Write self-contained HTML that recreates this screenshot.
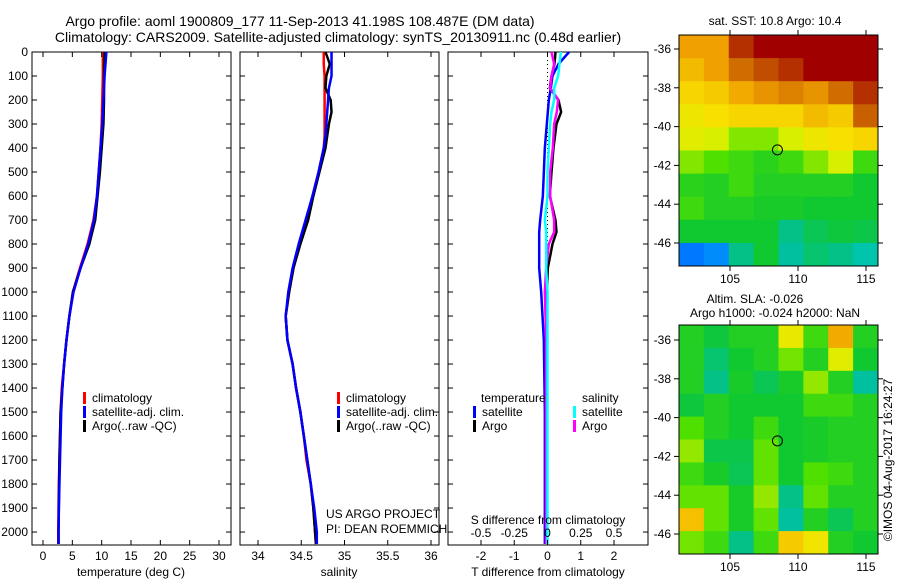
<!DOCTYPE html>
<html><head><meta charset="utf-8">
<style>
body{margin:0;background:#fff;width:900px;height:580px;overflow:hidden}
svg{display:block;font-family:"Liberation Sans",sans-serif}
text{font-size:12px;fill:#000}
</style></head>
<body>
<svg id="chart" width="900" height="580" viewBox="0 0 900 580" xmlns="http://www.w3.org/2000/svg">
<text x="300" y="26" text-anchor="middle" style="font-size:14px">Argo profile: aoml 1900809_177 11-Sep-2013 41.198S 108.487E (DM data)</text>
<text x="338" y="42" text-anchor="middle" style="font-size:14px">Climatology: CARS2009. Satellite-adjusted climatology: synTS_20130911.nc (0.48d earlier)</text>
<g id="g"></g>
</svg>
<script>
// ---- data ----
const depthsT = [0,100,200,300,400,500,600,700,800,900,1000,1100,1200,1300,1400,1500,1600,1700,1800,1900,2000,2050];
const tempClim = [10.2,10.2,10.1,10.0,9.8,9.5,9.2,8.6,7.6,6.3,5.1,4.5,4.0,3.6,3.2,3.0,2.9,2.8,2.7,2.65,2.6,2.6];
const tempSat  = [10.8,10.5,10.3,10.1,9.8,9.5,9.2,8.7,7.7,6.4,5.2,4.5,4.0,3.6,3.3,3.1,3.0,2.9,2.8,2.7,2.65,2.65];
const tempArgo = [10.5,10.4,10.4,10.3,10.0,9.7,9.3,8.9,7.9,6.4,5.1,4.5,4.0,3.6,3.3,3.0,2.9,2.8,2.75,2.7,2.65,2.65];
const depthsS = [0,50,100,150,200,250,300,350,400,500,600,700,800,900,1000,1100,1200,1300,1400,1500,1600,1700,1800,1900,2000,2050];
const salClim = [34.76,34.76,34.77,34.77,34.77,34.77,34.77,34.77,34.76,34.70,34.63,34.56,34.48,34.41,34.36,34.32,34.34,34.40,34.44,34.49,34.53,34.56,34.61,34.64,34.66,34.67];
const salSat  = [34.85,34.85,34.85,34.82,34.81,34.80,34.79,34.78,34.76,34.70,34.63,34.55,34.47,34.40,34.35,34.32,34.34,34.40,34.44,34.49,34.53,34.57,34.61,34.65,34.68,34.68];
const salArgo = [34.78,34.83,34.79,34.78,34.84,34.85,34.82,34.80,34.78,34.71,34.64,34.58,34.49,34.41,34.36,34.32,34.34,34.40,34.44,34.49,34.53,34.57,34.61,34.64,34.66,34.67];
const depthsD = [0,50,100,150,200,250,300,400,500,600,700,750,800,900,1000,1200,1500,2000,2050];
const dTArgo = [0.24,0.21,0.12,0.07,0.33,0.41,0.27,0.18,0.12,0.07,0.24,0.27,0.15,0.01,-0.02,-0.02,-0.02,-0.02,-0.02];
const dTSat  = [0.65,0.33,0.15,0.10,0.04,0.01,-0.02,-0.08,-0.11,-0.14,-0.22,-0.25,-0.25,-0.25,-0.19,-0.11,-0.08,-0.08,-0.08];
const dSArgo = [0.03,0.05,0.03,0.02,0.08,0.07,0.05,0.04,0.02,0.02,0.05,0.05,0.01,-0.01,-0.02,-0.01,-0.01,-0.01,-0.01];
const dSSat  = [0.10,0.09,0.08,0.05,0.05,0.03,0.02,0.01,0,0,-0.02,-0.01,-0.01,-0.01,0,0,0,0,0];
const depthTicks = [0,100,200,300,400,500,600,700,800,900,1000,1100,1200,1300,1400,1500,1600,1700,1800,1900,2000];
const tempTicks = [0,5,10,15,20,25,30];
const salTicks = [34,34.5,35,35.5,36];
const salTickLabels = ["34","34.5","35","35.5","36"];
const tdTicks = [-2,-1,0,1,2];
const sdTicks = [-0.5,-0.25,0,0.25,0.5];
const sdTickLabels = ["-0.5","-0.25","0","0.25","0.5"];
const lonTicks = [105,110,115];
const latTicks = [-36,-38,-40,-42,-44,-46];
// SST map (8 cols x 10 rows, normalized colour value, north to south)
const sstGrid = [
 [0.80,0.80,0.95,1,1,1,1,1],
 [0.75,0.80,0.88,0.92,0.95,1,1,1],
 [0.70,0.72,0.78,0.82,0.85,0.82,0.88,0.95],
 [0.65,0.68,0.70,0.70,0.70,0.75,0.72,0.90],
 [0.62,0.60,0.55,0.55,0.60,0.65,0.68,0.70],
 [0.55,0.52,0.50,0.48,0.50,0.55,0.60,0.50],
 [0.48,0.47,0.50,0.47,0.47,0.47,0.47,0.45],
 [0.50,0.47,0.47,0.46,0.46,0.45,0.45,0.45],
 [0.45,0.45,0.45,0.45,0.38,0.42,0.44,0.43],
 [0.20,0.22,0.38,0.45,0.36,0.40,0.38,0.35]];
const slaGrid = [
 [0.47,0.44,0.47,0.47,0.64,0.50,0.78,0.47],
 [0.47,0.40,0.45,0.47,0.54,0.47,0.62,0.45],
 [0.47,0.38,0.46,0.42,0.46,0.56,0.47,0.36],
 [0.44,0.47,0.45,0.45,0.45,0.50,0.50,0.47],
 [0.52,0.47,0.45,0.50,0.45,0.46,0.47,0.47],
 [0.56,0.43,0.43,0.53,0.45,0.46,0.47,0.47],
 [0.50,0.46,0.42,0.53,0.45,0.52,0.50,0.47],
 [0.53,0.53,0.46,0.56,0.38,0.53,0.47,0.47],
 [0.74,0.53,0.46,0.53,0.36,0.47,0.42,0.47],
 [0.54,0.50,0.38,0.50,0.72,0.66,0.47,0.45]];
const floatLon = 108.487, floatLat = -41.198;

const NS="http://www.w3.org/2000/svg";
const G=document.getElementById('g');
function mk(tag,attrs,parent){const e=document.createElementNS(NS,tag);for(const k in attrs)e.setAttribute(k,attrs[k]);(parent||G).appendChild(e);return e;}
function txt(s,x,y,anchor,parent){const t=mk('text',{x:x,y:y,'text-anchor':anchor||'start'},parent);t.textContent=s;return t;}

const Y0=52, Y1=545, D0=0, D1=2054;
function yD(d){return Y0+(d-D0)/(D1-D0)*(Y1-Y0);}
function linX(a,b,x0,x1){return v=>x0+(v-a)/(b-a)*(x1-x0);}
const P=[{x0:32,x1:231,sx:linX(0,30,43,219)},{x0:240,x1:439,sx:linX(34,36,258,431)},{x0:448,x1:648,sx:linX(-2,2,481,614)}];
const sdX=linX(-0.5,0.5,481,614);

function frame(p,name){
  const r=mk('rect',{x:p.x0,y:Y0,width:p.x1-p.x0,height:Y1-Y0,fill:'none',stroke:'#000','stroke-width':1});
  
  
  depthTicks.forEach(d=>{const y=yD(d);mk('line',{x1:p.x0,x2:p.x0+5,y1:y,y2:y,stroke:'#000'});mk('line',{x1:p.x1,x2:p.x1-5,y1:y,y2:y,stroke:'#000'});});
}
function profLine(vals,depths,sx,color,name){
  const pts=vals.map((v,i)=>sx(v)+','+yD(depths[i]));
  const l=mk('polyline',{points:pts.join(' '),fill:'none',stroke:color,'stroke-width':2.5,'stroke-linejoin':'round'});
  
  
}
function xTicks(p,ticks,labels,sx,yLab){
  ticks.forEach((t,i)=>{const x=sx(t);mk('line',{x1:x,x2:x,y1:Y1,y2:Y1-5,stroke:'#000'});mk('line',{x1:x,x2:x,y1:Y0,y2:Y0+5,stroke:'#000'});
    const tl=txt(labels[i],x,yLab,'middle');});
}
function legend(x,y,items){
  items.forEach((it,i)=>{const yy=y+i*14;mk('rect',{x:x,y:yy-10,width:3,height:12,fill:it[1]});const t=txt(it[0],x+9,yy);});
}

depthTicks.forEach(d=>{const t=txt(String(d),28,yD(d)+4,'end');});

// panel 1 temperature
frame(P[0],'temperature-panel');
profLine(tempClim,depthsT,P[0].sx,'#ff0000','temp-climatology-line');
profLine(tempArgo,depthsT,P[0].sx,'#000000','temp-argo-line');
profLine(tempSat,depthsT,P[0].sx,'#0000ff','temp-satellite-line');
xTicks(P[0],tempTicks,tempTicks.map(String),P[0].sx,560);
let t1=txt('temperature (deg C)',131,576,'middle');
legend(83,402,[['climatology','#ff0000'],['satellite-adj. clim.','#0000ff'],['Argo(..raw -QC)','#000']]);

// panel 2 salinity
frame(P[1],'salinity-panel');
profLine(salClim,depthsS,P[1].sx,'#ff0000','sal-climatology-line');
profLine(salArgo,depthsS,P[1].sx,'#000000','sal-argo-line');
profLine(salSat,depthsS,P[1].sx,'#0000ff','sal-satellite-line');
xTicks(P[1],salTicks,salTickLabels,P[1].sx,560);
let t2=txt('salinity',339,576,'middle');
legend(337,402,[['climatology','#ff0000'],['satellite-adj. clim.','#0000ff'],['Argo(..raw -QC)','#000']]);
let c1=txt('US ARGO PROJECT',326,518);
let c2=txt('PI: DEAN ROEMMICH',326,533);

// panel 3 differences
frame(P[2],'difference-panel');
mk('line',{x1:P[2].sx(0),x2:P[2].sx(0),y1:Y0,y2:yD(1000),stroke:'#000','stroke-dasharray':'1,3'});
profLine(dTArgo,depthsD,P[2].sx,'#000000','tdiff-argo-line');
profLine(dTSat,depthsD,P[2].sx,'#0000ff','tdiff-satellite-line');
profLine(dSArgo,depthsD,sdX,'#ff00ff','sdiff-argo-line');
profLine(dSSat,depthsD,sdX,'#00ffff','sdiff-satellite-line');
xTicks(P[2],tdTicks,tdTicks.map(String),P[2].sx,560);
sdTicks.forEach((s,i)=>{const t=txt(sdTickLabels[i],sdX(s),537,'middle');});
let t3=txt('S difference from climatology',548,524,'middle');
let t4=txt('T difference from climatology',548,576,'middle');
let t5=txt('temperature',481,402);
let t6=txt('salinity',582,402);
legend(473,416,[['satellite','#0000ff'],['Argo','#000']]);
legend(573,416,[['satellite','#00ffff'],['Argo','#ff00ff']]);

const stops=[[0,[0,40,160]],[0.2,[0,120,255]],[0.3,[0,220,230]],[0.36,[0,192,160]],[0.45,[16,200,48]],[0.52,[80,224,0]],[0.6,[216,240,0]],[0.68,[248,224,0]],[0.8,[240,160,0]],[0.9,[200,96,0]],[1,[160,0,0]]];
function cmap(v){for(let i=1;i<stops.length;i++){if(v<=stops[i][0]){const a=stops[i-1],b=stops[i],f=(v-a[0])/(b[0]-a[0]);return 'rgb('+a[1].map((c,k)=>Math.round(c+f*(b[1][k]-c))).join(',')+')';}}return 'rgb(160,0,0)';}

function map(grid,bx0,by0,bx1,by1,latAt,name){
  const lonX=linX(105,115,730,866);
  const latY=linX(-36,-46,latAt[0],latAt[1]);
  const rows=grid.length,cols=grid[0].length,cw=(bx1-bx0)/cols,ch=(by1-by0)/rows;
  const g=mk('g',{});
  
  
  grid.forEach((row,r)=>row.forEach((v,c)=>{const cell=mk('rect',{x:bx0+c*cw,y:by0+r*ch,width:cw+0.5,height:ch+0.5,fill:cmap(v)},g);
    
    }));
  mk('rect',{x:bx0,y:by0,width:bx1-bx0,height:by1-by0,fill:'none',stroke:'#000'});
  lonTicks.forEach(l=>{const x=lonX(l);mk('line',{x1:x,x2:x,y1:by1,y2:by1+5,stroke:'#000'});mk('line',{x1:x,x2:x,y1:by0,y2:by0-5,stroke:'#000'});const t=txt(String(l),x,by1+17,'middle');});
  latTicks.forEach(l=>{const y=latY(l);mk('line',{x1:bx0,x2:bx0-5,y1:y,y2:y,stroke:'#000'});mk('line',{x1:bx1,x2:bx1+5,y1:y,y2:y,stroke:'#000'});const t=txt(String(l),bx0-8,y+4,'end');});
  const m=mk('circle',{cx:lonX(floatLon),cy:latY(floatLat),r:5,fill:'none',stroke:'#000'});
  
  
}
map(sstGrid,679,35,878,266,[49,243],'sst-map');
map(slaGrid,679,325,878,554,[340,534],'sla-map');
let m1=txt('sat. SST: 10.8 Argo: 10.4',775,25,'middle');
let m2=txt('Altim. SLA: -0.026',755,303,'middle');
let m3=txt('Argo h1000: -0.024 h2000: NaN',775,317,'middle');
let m4=txt('©IMOS 04-Aug-2017 16:24:27',0,0,'middle');m4.setAttribute('transform','translate(892,460) rotate(-90)');


</script>
</body></html>
